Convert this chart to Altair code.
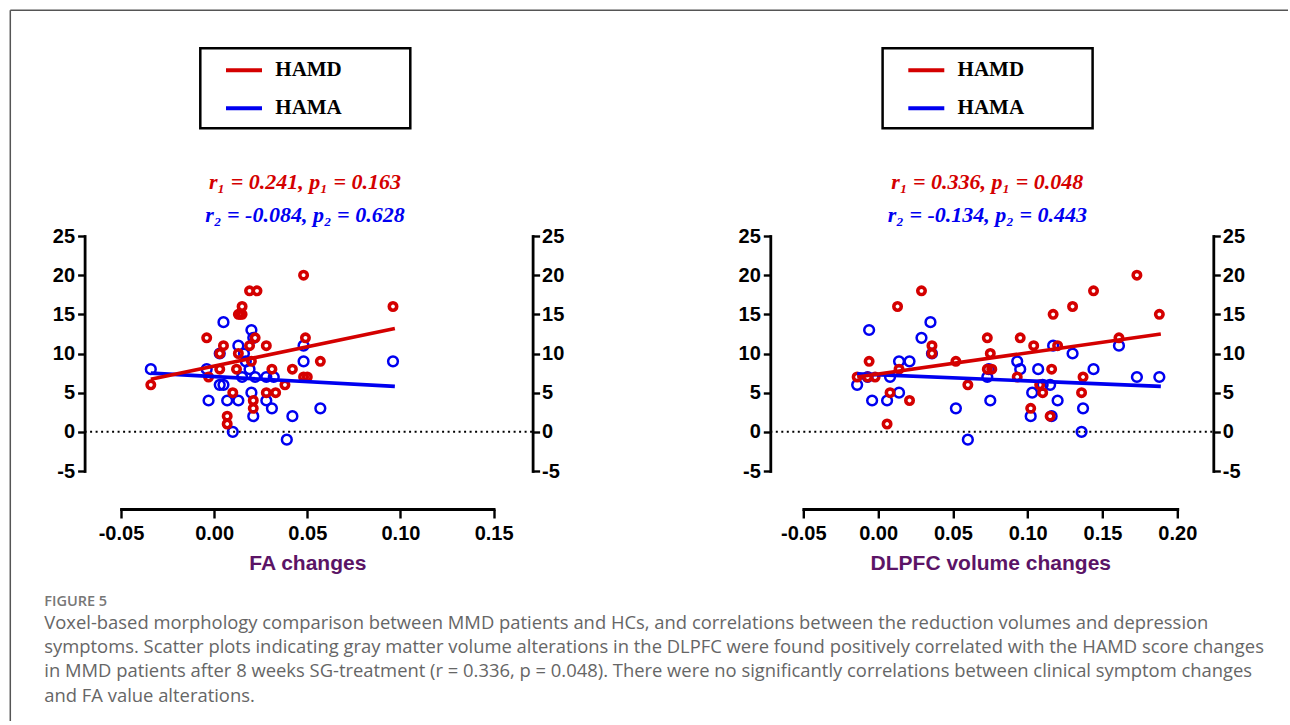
import altair as alt
import pandas as pd

# ---------------- data ----------------
# Left panel: FA changes vs symptom score changes
fa_hamd_x = [-0.034, -0.004, -0.003, 0.003, 0.003, 0.005, 0.010, 0.007, 0.007, 0.012,
             0.013, 0.013, 0.014, 0.015, 0.015, 0.019, 0.023, 0.022, 0.019, 0.020,
             0.028, 0.021, 0.021, 0.031, 0.028, 0.033, 0.038, 0.042, 0.048, 0.049,
             0.057, 0.048, 0.050, 0.096]
fa_hamd_y = [6, 12, 7, 8, 10, 11, 5, 2, 1, 8,
             10, 15, 15, 15, 16, 18, 18, 12, 11, 9,
             11, 4, 3, 8, 5, 5, 6, 8, 20, 12,
             9, 7, 7, 16]
fa_hama_x = [-0.034, -0.003, -0.004, 0.005, 0.003, 0.003, 0.005, 0.007, 0.010, 0.013,
             0.013, 0.016, 0.020, 0.021, 0.017, 0.015, 0.022, 0.019, 0.020, 0.021,
             0.028, 0.032, 0.028, 0.031, 0.042, 0.039, 0.048, 0.048, 0.057, 0.096]
fa_hama_y = [8, 4, 8, 14, 10, 6, 6, 4, 0, 4,
             11, 10, 13, 12, 9, 7, 7, 8, 5, 2,
             7, 7, 4, 3, 2, -1, 11, 9, 3, 9]

# Right panel: DLPFC volume changes vs symptom score changes
dl_hamd_x = [-0.014, -0.007, -0.002, -0.006, 0.006, 0.008, 0.014, 0.021, 0.013, 0.029,
             0.036, 0.036, 0.052, 0.060, 0.073, 0.075, 0.073, 0.076, 0.095, 0.093,
             0.104, 0.116, 0.102, 0.108, 0.110, 0.115, 0.117, 0.120, 0.130, 0.137,
             0.136, 0.144, 0.161, 0.173, 0.188]
dl_hamd_y = [7, 7, 7, 9, 1, 5, 8, 4, 16, 18,
             11, 10, 9, 6, 12, 10, 8, 8, 12, 7,
             11, 8, 3, 6, 5, 2, 15, 11, 16, 7,
             5, 18, 12, 20, 15]
dl_hama_x = [-0.014, -0.007, -0.006, -0.004, 0.006, 0.014, 0.008, 0.014, 0.021, 0.035,
             0.029, 0.036, 0.052, 0.060, 0.074, 0.073, 0.075, 0.093, 0.095, 0.107,
             0.103, 0.102, 0.110, 0.115, 0.120, 0.116, 0.117, 0.130, 0.144, 0.137,
             0.136, 0.161, 0.173, 0.188]
dl_hama_y = [6, 7, 13, 4, 4, 5, 7, 9, 9, 14,
             12, 10, 3, -1, 8, 7, 4, 9, 8, 8,
             5, 2, 6, 6, 4, 2, 11, 10, 8, 3,
             0, 11, 7, 7]

# fitted lines (end points)
fa_fit_x = [-0.034, 0.097]
fa_fit_hamd = [6.7, 13.2]
fa_fit_hama = [7.5, 5.8]
dl_fit_x = [-0.014, 0.189]
dl_fit_hamd = [7.0, 12.5]
dl_fit_hama = [7.4, 5.8]

y_ticks = [-5, 0, 5, 10, 15, 20, 25]
fa_x_ticks = [-0.05, 0.0, 0.05, 0.10, 0.15]
dl_x_ticks = [-0.05, 0.0, 0.05, 0.10, 0.15, 0.20]
legend_labels = ["HAMD", "HAMA"]
fa_stats = ["r\u2081 = 0.241, p\u2081 = 0.163", "r\u2082 = -0.084, p\u2082 = 0.628"]
dl_stats = ["r\u2081 = 0.336, p\u2081 = 0.048", "r\u2082 = -0.134, p\u2082 = 0.443"]
fig_label = "FIGURE 5"
caption_lines = [
    "Voxel-based morphology comparison between MMD patients and HCs, and correlations between the reduction volumes and depression",
    "symptoms. Scatter plots indicating gray matter volume alterations in the DLPFC were found positively correlated with the HAMD score changes",
    "in MMD patients after 8 weeks SG-treatment (r = 0.336, p = 0.048). There were no significantly correlations between clinical symptom changes",
    "and FA value alterations.",
]

RED = "#d40000"
BLUE = "#0000f0"
TITLE_COLOR = "#5b1466"
H = 235


def lab_expr(fmt):
    return ("datum.value < 0 ? '-' + format(-datum.value, '" + fmt +
            "') : format(datum.value, '" + fmt + "')")


AX = dict(domainColor="black", domainWidth=2.8, domainCap="square", tickColor="black",
          tickWidth=2.4, labelFont="Liberation Sans", labelFontWeight="bold",
          labelFontSize=20, labelColor="black", grid=False, labelFlush=False,
          labelOverlap=False)

one = pd.DataFrame({"k": [0]})


def panel(hx, hy, ax_, ay, fx, fh, fa, xdom, xticks, xtitle, stats, W, off_l, off_r, extras):
    xs = alt.Scale(domain=xdom, nice=False, zero=False)
    ys = alt.Scale(domain=[-5, 25], nice=False, zero=False)
    xaxis = alt.Axis(orient="bottom", offset=38, values=xticks, labelExpr=lab_expr(".2f"),
                     title=xtitle, tickSize=9, labelPadding=5, titleFont="Liberation Sans",
                     titleFontSize=21, titleFontWeight="bold", titleColor=TITLE_COLOR,
                     titlePadding=9, **AX)
    yl = alt.Axis(orient="left", offset=off_l, values=y_ticks, labelExpr=lab_expr("d"),
                  tickSize=7, labelPadding=3, title=None, **AX)
    yr = alt.Axis(orient="right", offset=off_r, values=y_ticks, labelExpr=lab_expr("d"),
                  tickSize=7, labelPadding=2, title=None, **AX)

    zero = alt.Chart(pd.DataFrame({"y": [0]})).mark_rule(
        color="black", strokeWidth=2, strokeDash=[2, 3.5]).encode(
        x=alt.value(-off_l), x2=alt.value(W + off_r),
        y=alt.Y("y:Q", scale=ys, axis=None))

    blue = alt.Chart(pd.DataFrame({"x": ax_, "y": ay})).mark_point(
        shape="circle", filled=False, size=95, strokeWidth=2.5, color=BLUE, opacity=1).encode(
        x=alt.X("x:Q", scale=xs, axis=xaxis), y=alt.Y("y:Q", scale=ys, axis=yl))
    red = alt.Chart(pd.DataFrame({"x": hx, "y": hy})).mark_point(
        shape="circle", filled=False, size=55, strokeWidth=3.6, color=RED, opacity=1).encode(
        x=alt.X("x:Q", scale=xs, axis=None), y=alt.Y("y:Q", scale=ys, axis=yr))

    fit = pd.DataFrame({"x": fx, "hamd": fh, "hama": fa})
    line_b = alt.Chart(fit).mark_line(color=BLUE, strokeWidth=3.6).encode(
        x=alt.X("x:Q", scale=xs, axis=None), y=alt.Y("hama:Q", scale=ys, axis=None))
    line_r = alt.Chart(fit).mark_line(color=RED, strokeWidth=3.6).encode(
        x=alt.X("x:Q", scale=xs, axis=None), y=alt.Y("hamd:Q", scale=ys, axis=None))

    box = alt.Chart(one).mark_rect(filled=False, stroke="black", strokeWidth=2.5).encode(
        x=alt.value(79.3), x2=alt.value(289.3), y=alt.value(-187.7), y2=alt.value(-107.7))
    leg = []
    for lbl, col, yy in zip(legend_labels, [RED, BLUE], [-165.7, -127.7]):
        leg.append(alt.Chart(one).mark_rule(color=col, strokeWidth=4).encode(
            x=alt.value(105), x2=alt.value(141), y=alt.value(yy)))
        leg.append(alt.Chart(one).mark_text(
            align="left", baseline="middle", font="Liberation Serif", fontWeight="bold",
            fontSize=21, color="black").encode(
            x=alt.value(154.3), y=alt.value(yy), text=alt.value(lbl)))
    st = []
    for s, col, yy in zip(stats, [RED, BLUE], [-54, -21]):
        st.append(alt.Chart(one).mark_text(
            align="center", baseline="middle", font="Liberation Serif", fontStyle="italic",
            fontWeight="bold", fontSize=22, color=col).encode(
            x=alt.value(184), y=alt.value(yy), text=alt.value(s)))

    layers = extras + [box] + leg + [zero, blue, red, line_b, line_r] + st
    return alt.layer(*layers).resolve_axis(x="independent", y="independent").properties(
        width=W, height=H)


# decorations (page frame + caption) attached to the left panel
anchor = alt.Chart(one).mark_rule(opacity=0, strokeWidth=1).encode(
    x=alt.value(-120.2), x2=alt.value(-119), y=alt.value(-235.2))
frame_l = alt.Chart(one).mark_rule(color="#555555", strokeWidth=1.5).encode(
    x=alt.value(-110.7), x2=alt.value(-110.7), y=alt.value(-225.7), y2=alt.value(485))
frame_t = alt.Chart(one).mark_rule(color="#555555", strokeWidth=1.5).encode(
    x=alt.value(-110.7), x2=alt.value(1167), y=alt.value(-225.7))
figlab = alt.Chart(one).mark_text(
    align="left", baseline="alphabetic", font="Open Sans", fontWeight=600, fontSize=14.5,
    color="#777777").encode(x=alt.value(-76.7), y=alt.value(369.5), text=alt.value(fig_label))
caption = alt.Chart(one).mark_text(
    align="left", baseline="alphabetic", font="Open Sans", fontSize=18.4, color="#666666",
    lineBreak="\n", lineHeight=24.4).encode(
    x=alt.value(-76.7), y=alt.value(392.5), text=alt.value("\n".join(caption_lines)))

left = panel(fa_hamd_x, fa_hamd_y, fa_hama_x, fa_hama_y, fa_fit_x, fa_fit_hamd, fa_fit_hama,
             [-0.05, 0.15], fa_x_ticks, "FA changes", fa_stats, 372.6, 36.4, 39,
             [anchor, frame_l, frame_t, figlab, caption])
right = panel(dl_hamd_x, dl_hamd_y, dl_hama_x, dl_hama_y, dl_fit_x, dl_fit_hamd, dl_fit_hama,
              [-0.05, 0.20], dl_x_ticks, "DLPFC volume changes", dl_stats, 374, 33, 36, [])

chart = alt.hconcat(left, right, spacing=309.3, bounds="flush").properties(
    padding=0, background="white").configure_view(stroke="transparent")

chart.save("out.html", embed_options={"renderer": "svg", "actions": False})
